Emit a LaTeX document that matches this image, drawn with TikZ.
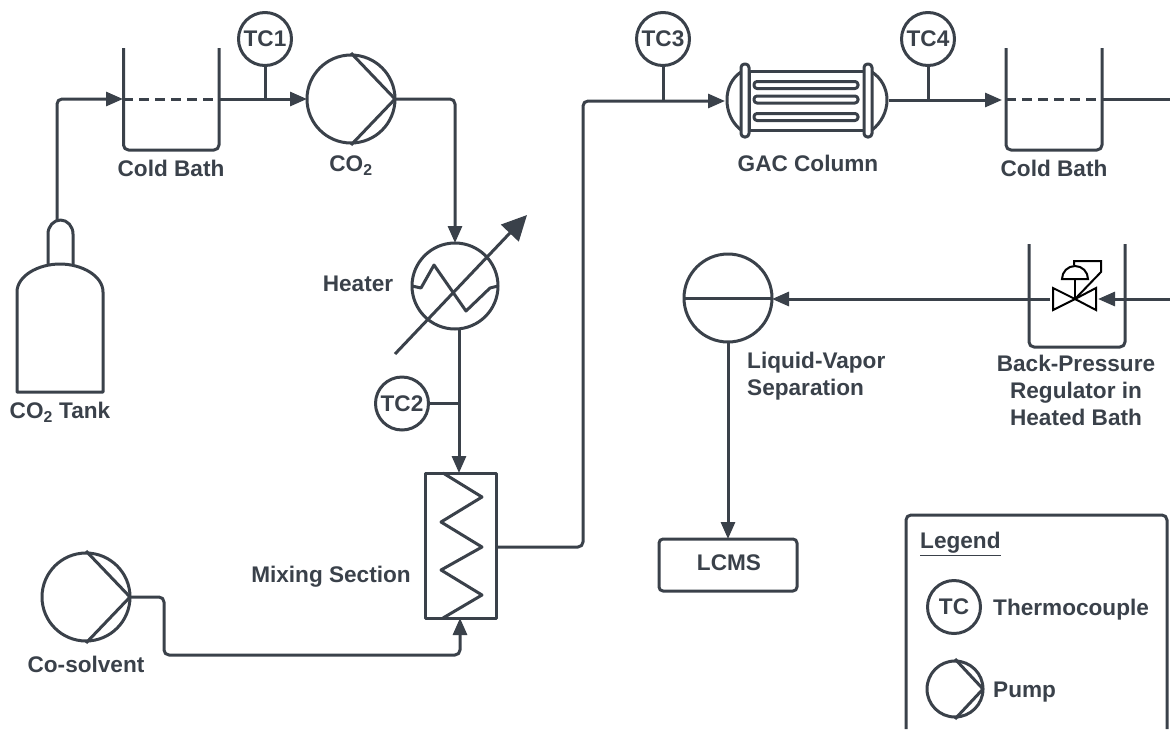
\documentclass[tikz,border=0pt]{standalone}
\usepackage{fontspec}
\setmainfont{Liberation Sans}
\usetikzlibrary{arrows.meta}
\definecolor{pipecol}{HTML}{3A414A}
\tikzset{
  pipe/.style={draw=pipecol,line width=3pt,line join=round},
  flow/.style={pipe,rounded corners=5pt,-{Triangle[length=17pt,width=14pt]}},
  label/.style={text=pipecol,inner sep=0pt,align=center,font=\fontsize{22.6}{27}\selectfont\bfseries},
  gauge/.style={circle,pipe,fill=white,minimum size=53pt,inner sep=0pt,outer sep=0pt,label},
  vessel/.style={circle,pipe,minimum size=88pt,inner sep=0pt,outer sep=0pt},
  valve/.style={draw=black,line width=2pt,line join=miter},
  level/.style={pipe,dash pattern=on 10pt off 6pt}
}
\begin{document}
\begin{tikzpicture}[x=1pt,y=-1pt]
\useasboundingbox(0,0)rectangle(1170,729);
% tank
\draw[pipe](17,392)--(17,292).. controls (17,276) and (38,264) .. (60,264).. controls (82,264) and (103,276) .. (103,292)--(103,392)--cycle;
\draw[pipe](48,264)--(48,234)arc(180:360:12.5 and 14)--(73,264);
\coordinate(tanktop)at(57,220);
% cold baths
\coordinate(bathain)at(123,99);\coordinate(bathaout)at(219,99);
\coordinate(bathbin)at(1006,99);\coordinate(bathbout)at(1102,99);
\draw[pipe,rounded corners=5pt](123.5,48)--(123.5,150)--(219,150)--(219,48);
\draw[pipe,rounded corners=5pt](1006,48)--(1006,150)--(1102,150)--(1102,48);
\draw[level](bathain)--(bathaout);
\draw[level](bathbin)--(bathbout);
\node[label](bathatext)at(171,168){Cold Bath};
\node[label](bathbtext)at(1054,168){Cold Bath};
\node[label](tanktext)at(60,412){CO\textsubscript{2} Tank};
% pumps
\node[vessel](pumpa)at(351,99){};
\node[vessel](pumpb)at(86,597){};
\node[vessel,minimum size=56pt](pumpc)at(955,689){};
\foreach \p in {pumpa,pumpb,pumpc}\draw[pipe]([yshift=2pt]\p.north)--(\p.east)--([yshift=-2pt]\p.south);
\node[label](pumpatext)at(351,166){CO\textsubscript{2}};
\node[label](pumpbtext)at(86,664){Co-solvent};
% heater
\node[vessel,minimum size=86pt](heater)at(455,286){};
\draw[pipe](heater.west)--(421,288)--(434,265)--(466,311)--(490,288)--(heater.east);
\coordinate(trima)at(395,354);\coordinate(trimb)at(527,215);
\draw[pipe,-{Triangle[length=25pt,width=24pt]}](trima)--(trimb);
\node[label](heatertext)at(358,284){Heater};
% mixing section
\node[rectangle,pipe,minimum width=71pt,minimum height=145pt,outer sep=0pt](mixer)at(460.5,545.5){};
\draw[pipe](443,473)--(482,497)--(441,522)--(482,547)--(441,570)--(482,595)--(443,618);
\node[label](mixertext)at(331,577){Mixing Section};
% column
\draw[pipe](749,71)rectangle(864,130);
\draw[pipe](741,72).. controls (732,78) and (727,88) .. (727,100).. controls (727,112) and (732,123) .. (741,130);
\draw[pipe](872,72).. controls (881,78) and (887,88) .. (887,100).. controls (887,112) and (881,123) .. (872,130);
\draw[pipe,fill=white,rounded corners=3.5pt](741,64)rectangle(749,137);
\draw[pipe,fill=white,rounded corners=3.5pt](864,64)rectangle(872,137);
\draw[pipe,rounded corners=3pt](754,81.5)rectangle(858,88.5);
\draw[pipe,rounded corners=3pt](754,96)rectangle(858,103);
\draw[pipe,rounded corners=3pt](754,113.5)rectangle(858,120.5);
\coordinate(colin)at(725,101);\coordinate(colout)at(889,100);
\node[label](coltext)at(808,163){GAC Column};
% regulator
\draw[pipe,rounded corners=5pt](1029,244)--(1029,347)--(1125,347)--(1125,244);
\coordinate(reg)at(1075,299);\coordinate(regin)at(1098,299);\coordinate(regout)at(1050,299);
\draw[valve](reg)--(1053,288)--(1053,310)--cycle;
\draw[valve](reg)--(1096,288)--(1096,310)--cycle;
\draw[valve](reg)--(1075,279);
\draw[valve](1062,279)arc(180:360:13 and 13)--cycle;
\draw[valve](reg)--(1101,272)--(1101,261)--(1074,261)--(1074,265);
\node[label](regtext)at(1076,390){Back-Pressure\\Regulator in\\Heated Bath};
% separator and lcms
\node[vessel](sep)at(728,298){};
\draw[pipe](sep.west)--(sep.east);
\node[label,align=left,anchor=west](septext)at(747,376){Liquid-Vapor\\Separation};
\node[rectangle,pipe,rounded corners=4pt,minimum width=138pt,minimum height=52pt,outer sep=0pt](lcms)at(728,565){};
\node[label](lcmstext)at(729,563){LCMS};
% thermocouples
\node[gauge](tca)at(265,39){TC1};
\node[gauge](tcb)at(402,403.5){TC2};
\node[gauge](tcc)at(663,39){TC3};
\node[gauge](tcd)at(928,39){TC4};
\coordinate(tcaj)at(265,99);\coordinate(tcbj)at(459,403.5);
\coordinate(tccj)at(663,101);\coordinate(tcdj)at(928,100);
\draw[pipe](tca)--(tcaj);\draw[pipe](tcb)--(tcbj);
\draw[pipe](tcc)--(tccj);\draw[pipe](tcd)--(tcdj);
% piping
\coordinate(endb)at(1170,99);\coordinate(endc)at(1170,299);
\draw[flow](tanktop)--(57,99)--(bathain);
\draw[flow](bathaout)--(pumpa.west);
\draw[flow](pumpa.east)--(455,99)--(heater.north);
\draw[flow](459,328)--(mixer.north-|459,0);
\draw[flow](pumpb.east)--(164,597)--(164,655)--(460,655)--(mixer.south-|460,0);
\draw[flow](mixer.east|-0,547)--(583,547)--(583,101)--(colin);
\draw[flow](colout)--(1002,100);
\draw[pipe](bathbout)--(endb);
\draw[flow](endc)--(regin);
\draw[flow](regout)--(regout-|sep.east);
\draw[flow](sep.south)--(lcms.north);
% legend
\draw[pipe,rounded corners=5pt](906,729)--(906,515)--(1167,515)--(1167,729);
\node[label,anchor=west](legtitle)at(920,544){\underline{Legend}};
\node[gauge](legtc)at(954,607){TC};
\node[label,anchor=west](legtctext)at(993,610){Thermocouple};
\node[label,anchor=west](legptext)at(993,692){Pump};
\end{tikzpicture}
\end{document}
